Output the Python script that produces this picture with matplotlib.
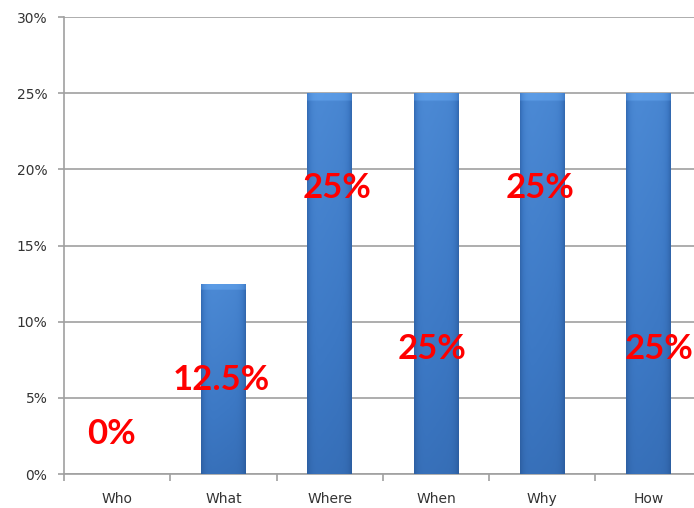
import matplotlib.pyplot as plt
import numpy as np
from matplotlib.colors import LinearSegmentedColormap

# question words and share of answers (%)
categories = ['Who', 'What', 'Where', 'When', 'Why', 'How']
values = [0, 12.5, 25, 25, 25, 25]

# where the red value labels sit (x shift in category units, y in %)
label_dx = [-0.05, -0.02, 0.07, -0.04, -0.02, 0.1]
label_y = [2.6, 6.2, 18.8, 8.2, 18.8, 8.2]

fig = plt.figure(figsize=(6.94, 5.08), dpi=100)
ax = fig.add_axes([0.0922, 0.0669, 0.919, 0.8996])

x = np.arange(len(categories))
bars = ax.bar(x, values, width=0.42, color='#3b76c2', zorder=2)

# shaded fill for each bar: darker at the sides and bottom, bevel on top
cmap = LinearSegmentedColormap.from_list('barblue', ['#24508e', '#3c78c4', '#5c9ce6'])
nx, ny = 60, 200
u = np.linspace(0, 1, nx)
side = 1 - 0.55 * (np.abs(u - 0.5) * 2) ** 6
side = side * (1 - 0.12 * u)
for b in bars:
    h = b.get_height()
    if h <= 0:
        continue
    v = np.linspace(0, 1, ny)[:, None]
    img = (0.42 + 0.35 * v) * side[None, :]
    bevel = 0.4  # bevel depth in % units
    top = (v * h) > (h - bevel)
    img = np.where(top, np.minimum(img + 0.25, 1.0), img)
    im = ax.imshow(img, cmap=cmap, vmin=0, vmax=1, aspect='auto', origin='lower',
                   extent=[b.get_x(), b.get_x() + b.get_width(), 0, h],
                   interpolation='bilinear', zorder=3)
    im.set_clip_path(b)

for i, v in enumerate(values):
    ax.text(x[i] + label_dx[i], label_y[i], f'{v:g}%', color='#ff0000',
            fontsize=25, fontweight='bold', ha='center', va='center',
            family=['Lato', 'DejaVu Sans'], zorder=5)

ax.set_xlim(-0.5, len(categories) - 0.5)
ax.set_ylim(0, 30)
ax.set_yticks(np.arange(0, 31, 5))
ax.set_yticklabels([f'{t}%' for t in range(0, 31, 5)])
ax.set_xticks(x)
ax.set_xticklabels(categories)
ax.set_xticks(np.arange(-0.5, len(categories), 1), minor=True)

ax.grid(axis='y', color='#a0a0a0', linewidth=1.2, zorder=0)
ax.set_axisbelow(True)
for s in ['top', 'right']:
    ax.spines[s].set_visible(False)
for s in ['left', 'bottom']:
    ax.spines[s].set_color('#a0a0a0')
    ax.spines[s].set_linewidth(1.2)

ax.tick_params(axis='y', length=4, width=1.2, color='#a0a0a0', labelsize=10,
               labelcolor='#333333', pad=8)
ax.tick_params(axis='x', which='major', length=0, labelsize=10,
               labelcolor='#333333', pad=13)
ax.tick_params(axis='x', which='minor', length=5, width=1.2, color='#a0a0a0')

fig.savefig('out.png', dpi=100)
